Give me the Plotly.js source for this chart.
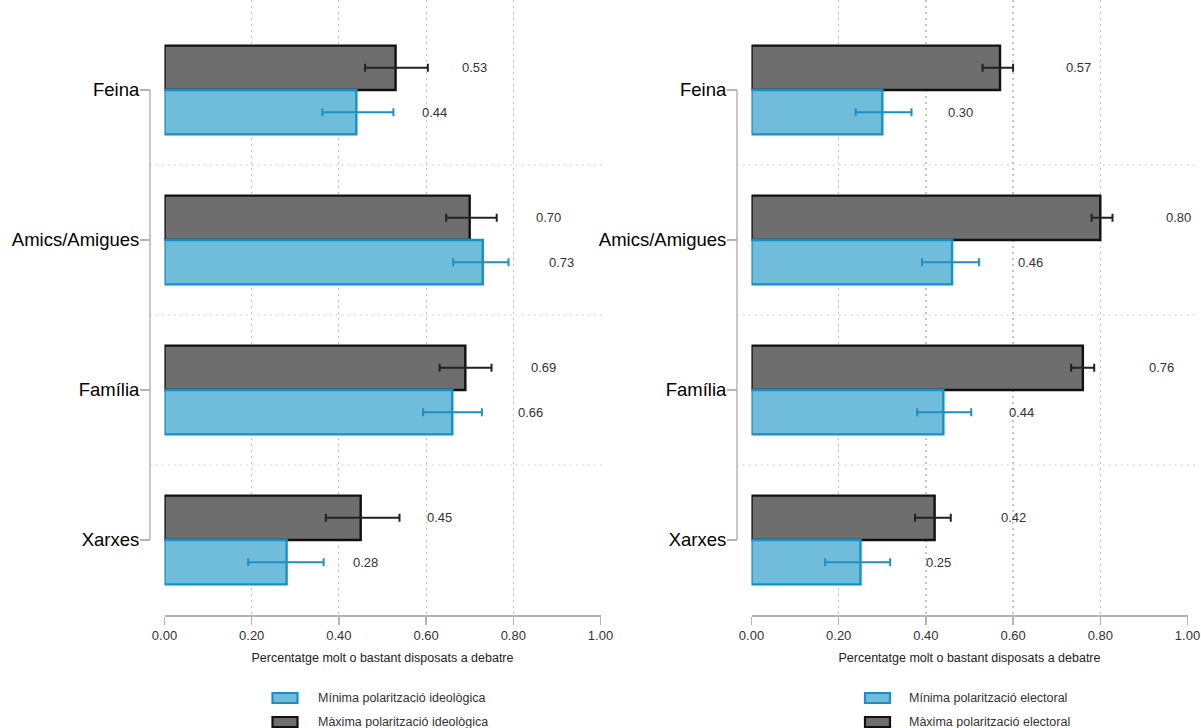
<!DOCTYPE html>
<html>
<head>
<meta charset="utf-8">
<script src="https://cdn.plot.ly/plotly-3.0.1.min.js"></script>
<style>html,body{margin:0;padding:0;background:#fff;}#chart{width:1201px;height:728px;}</style>
</head>
<body>
<div id="chart"></div>
<script>
// ---- data ----
const categories = ['Feina', 'Amics/Amigues', 'Família', 'Xarxes'];

const ideoMin   = [0.44, 0.73, 0.66, 0.28];
const ideoMinLo = [0.362, 0.662, 0.593, 0.192];
const ideoMinHi = [0.525, 0.789, 0.728, 0.365];
const ideoMax   = [0.53, 0.70, 0.69, 0.45];
const ideoMaxLo = [0.460, 0.646, 0.631, 0.370];
const ideoMaxHi = [0.604, 0.762, 0.750, 0.539];

const elecMin   = [0.30, 0.46, 0.44, 0.25];
const elecMinLo = [0.239, 0.391, 0.380, 0.169];
const elecMinHi = [0.367, 0.522, 0.504, 0.318];
const elecMax   = [0.57, 0.80, 0.76, 0.42];
const elecMaxLo = [0.530, 0.780, 0.733, 0.375];
const elecMaxHi = [0.600, 0.828, 0.786, 0.457];

const xTickVals = [0, 0.2, 0.4, 0.6, 0.8, 1.0];
const xTickText = ['0.00', '0.20', '0.40', '0.60', '0.80', '1.00'];
const xTitle = 'Percentatge molt o bastant disposats a debatre';
const legendLeft  = ['Mínima polarització ideològica', 'Màxima polarització ideològica'];
const legendRight = ['Mínima polarització electoral', 'Màxima polarització electoral'];

// ---- style ----
const FONT = 'Liberation Sans, Arial, sans-serif';
const W = 1201, H = 728, PLOT_BOTTOM = 615;
const BLUE_FILL = '#6fbcdb', BLUE_LINE = '#1790c8';
const GRAY_FILL = '#6e6e6e', GRAY_LINE = '#111111';
const AXIS_COL = '#b4b4b4';
const DOT_COL = '#c4c4c4', DOT_DASH = '1.5px,4.5px';
const BAR_W = 0.296;
const LABEL_OFFSET = 0.18;

function px(x) { return x / W; }
function py(y) { return (PLOT_BOTTOM - y) / PLOT_BOTTOM; }

function barTrace(vals, lo, hi, isMax, xa, ya) {
  return {
    type: 'bar', orientation: 'h',
    x: vals, y: categories,
    xaxis: xa, yaxis: ya,
    width: BAR_W, offset: isMax ? -BAR_W : 0,
    marker: { color: isMax ? GRAY_FILL : BLUE_FILL,
              line: { color: isMax ? GRAY_LINE : BLUE_LINE, width: 2.4 } },
    error_x: { type: 'data', symmetric: false,
               array: vals.map((v, i) => hi[i] - v),
               arrayminus: vals.map((v, i) => v - lo[i]),
               color: isMax ? '#222' : '#1f8fc4', thickness: 2, width: 4 },
    hoverinfo: 'skip', showlegend: false
  };
}

const traces = [
  barTrace(ideoMax, ideoMaxLo, ideoMaxHi, true, 'x', 'y'),
  barTrace(ideoMin, ideoMinLo, ideoMinHi, false, 'x', 'y'),
  barTrace(elecMax, elecMaxLo, elecMaxHi, true, 'x2', 'y2'),
  barTrace(elecMin, elecMinLo, elecMinHi, false, 'x2', 'y2')
];

function valueLabels(vals, isMax, xa, ya) {
  return vals.map((v, i) => ({
    xref: xa, yref: ya, x: v + LABEL_OFFSET, y: i + (isMax ? -BAR_W / 2 : BAR_W / 2),
    text: v.toFixed(2), showarrow: false,
    font: { family: FONT, size: 13, color: '#333' },
    xanchor: 'center', yanchor: 'middle'
  }));
}

const annotations = [].concat(
  valueLabels(ideoMax, true, 'x', 'y'),
  valueLabels(ideoMin, false, 'x', 'y'),
  valueLabels(elecMax, true, 'x2', 'y2'),
  valueLabels(elecMin, false, 'x2', 'y2')
);

const shapes = [];
// y bracket lines and category separators
[[150, 605, 'y'], [737, 1197, 'y2']].forEach(([xl, xr, ya]) => {
  shapes.push({ type: 'line', xref: 'paper', yref: ya, x0: px(xl), x1: px(xl), y0: 0, y1: categories.length - 1,
                line: { color: AXIS_COL, width: 1.5 } });
  for (let k = 0; k < categories.length - 1; k++) {
    shapes.push({ type: 'line', xref: 'paper', yref: ya, x0: px(xl), x1: px(xr), y0: k + 0.5, y1: k + 0.5,
                  line: { color: DOT_COL, width: 1.2, dash: DOT_DASH } });
  }
});

// legends
function legend(x0, textX, items) {
  const rows = [[693, 703, 698], [717, 727, 722]];
  items.forEach((t, i) => {
    const isMax = i === 1;
    shapes.push({ type: 'rect', xref: 'paper', yref: 'paper',
                  x0: px(x0), x1: px(x0 + 25), y0: py(rows[i][1]), y1: py(rows[i][0]),
                  fillcolor: isMax ? GRAY_FILL : BLUE_FILL,
                  line: { color: isMax ? GRAY_LINE : BLUE_LINE, width: 2.2 } });
    annotations.push({ xref: 'paper', yref: 'paper', x: px(textX), y: py(rows[i][2]),
                       text: t, showarrow: false, xanchor: 'left', yanchor: 'middle',
                       font: { family: FONT, size: 12.5, color: '#333' } });
  });
}
legend(272.5, 316, legendLeft);
legend(865, 907, legendRight);

function xAxis(domain, anchor) {
  return {
    domain: domain, anchor: anchor, range: [0, 1.0],
    tickvals: xTickVals, ticktext: xTickText,
    showline: true, linecolor: AXIS_COL, linewidth: 1.5,
    ticks: 'outside', ticklen: 8, tickwidth: 1.5, tickcolor: AXIS_COL,
    tickfont: { family: FONT, size: 13, color: '#333' },
    showgrid: true, gridcolor: DOT_COL, gridwidth: 1.2, griddash: DOT_DASH,
    zeroline: true, zerolinecolor: 'rgba(0,0,0,0)',
    title: { text: xTitle, font: { family: FONT, size: 12.5, color: '#222' }, standoff: 11 },
    fixedrange: true
  };
}
function yAxis(pos) {
  return {
    type: 'category', categoryorder: 'array', categoryarray: categories,
    range: [categories.length - 0.5, -0.6],
    anchor: 'free', position: pos, domain: [0, 1],
    showline: false, showgrid: false, zeroline: false,
    ticks: 'outside', ticklen: 10, tickwidth: 1.5, tickcolor: AXIS_COL,
    ticklabelstandoff: -3,
    tickfont: { family: FONT, size: 18.5, color: '#000' },
    fixedrange: true
  };
}

const layout = {
  width: W, height: H,
  margin: { l: 0, r: 0, t: 0, b: H - PLOT_BOTTOM },
  paper_bgcolor: '#fff', plot_bgcolor: '#fff',
  barmode: 'overlay', showlegend: false,
  xaxis: xAxis([px(164.5), px(600.5)], 'y'),
  yaxis: yAxis(px(150)),
  xaxis2: xAxis([px(751.5), px(1187.5)], 'y2'),
  yaxis2: yAxis(px(737)),
  annotations: annotations,
  shapes: shapes
};

Plotly.newPlot('chart', traces, layout, { displayModeBar: false, staticPlot: true });
</script>
</body>
</html>
